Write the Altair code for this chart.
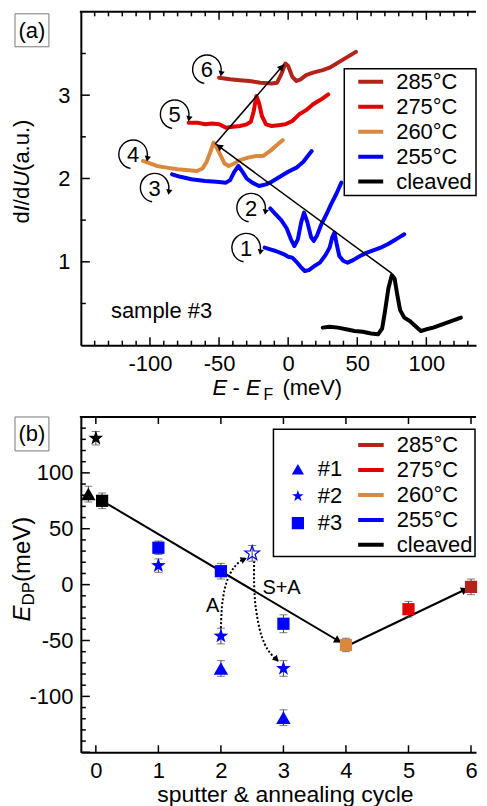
import math
import altair as alt
import pandas as pd

FONT = "Liberation Sans"
TEMPS = ["285°C", "275°C", "260°C", "255°C", "cleaved"]
COLORS = ["#B3231A", "#E30000", "#DA883E", "#0000FF", "#000000"]

# ---------------- panel (a): dI/dU spectra (offset) ----------------
c1_x = [-17, -13, -9, -6, -3, 0, 3, 6, 9, 12, 15, 19, 23, 27, 30, 32, 33.5, 35, 37, 40, 43, 47, 52, 57, 62, 67, 72, 76, 80, 84]
c1_y = [1.17, 1.15, 1.13, 1.11, 1.09, 1.06, 1.05, 1.00, 0.94, 0.89, 0.90, 0.95, 0.99, 1.08, 1.17, 1.30, 1.35, 1.22, 1.07, 1.01, 0.99, 1.02, 1.07, 1.11, 1.14, 1.17, 1.21, 1.25, 1.29, 1.33]
c2_x = [-13, -9, -5, -1, 2, 4.5, 7, 9.5, 11.5, 14, 16.5, 18.5, 21, 24, 28, 31, 35, 38.5]
c2_y = [1.64, 1.57, 1.50, 1.40, 1.27, 1.19, 1.27, 1.48, 1.59, 1.47, 1.30, 1.25, 1.32, 1.45, 1.58, 1.69, 1.82, 1.95]
c3_x = [-84, -78, -70, -60, -52, -45, -42, -39, -36, -33, -30, -26, -21, -16, -12, -6, 0, 6, 11, 17]
c3_y = [2.05, 2.02, 1.99, 1.97, 1.96, 1.95, 1.98, 2.08, 2.15, 2.08, 2.00, 1.95, 1.91, 1.93, 1.96, 2.02, 2.08, 2.13, 2.20, 2.33]
c4_x = [-105, -100, -95, -88, -80, -72, -66, -62, -59, -56, -54, -52, -49, -46, -43, -39, -35, -29, -23, -18, -13, -9, -4]
c4_y = [2.21, 2.18, 2.15, 2.13, 2.11, 2.10, 2.09, 2.12, 2.20, 2.33, 2.43, 2.38, 2.28, 2.18, 2.15, 2.18, 2.22, 2.25, 2.27, 2.27, 2.33, 2.39, 2.46]
c5_x = [-72, -66, -60, -55, -50, -45, -40, -35, -30, -27, -25, -23, -21, -19, -16, -12, -7, -2, 3, 8, 13, 18, 24, 29]
c5_y = [2.67, 2.67, 2.65, 2.66, 2.65, 2.61, 2.62, 2.63, 2.65, 2.68, 2.80, 2.99, 2.90, 2.75, 2.65, 2.63, 2.64, 2.65, 2.69, 2.77, 2.82, 2.89, 2.95, 3.01]
c6_x = [-50, -42, -35, -28, -20, -12, -8, -5, -2, 0, 3, 6, 9, 13, 18, 25, 30, 37, 43, 49]
c6_y = [3.21, 3.19, 3.18, 3.17, 3.15, 3.14, 3.15, 3.25, 3.38, 3.35, 3.22, 3.17, 3.19, 3.24, 3.27, 3.30, 3.33, 3.40, 3.46, 3.52]
cl_x = [25, 30, 36, 42, 48, 54, 60, 65, 68, 70, 72.5, 75, 77, 79, 81, 84, 88, 92, 96, 100, 105, 110, 115, 120, 125]
cl_y = [0.21, 0.22, 0.21, 0.19, 0.17, 0.16, 0.14, 0.13, 0.20, 0.40, 0.68, 0.84, 0.80, 0.60, 0.42, 0.33, 0.29, 0.23, 0.17, 0.19, 0.21, 0.24, 0.27, 0.30, 0.33]

curves = [("1", "255°C", c1_x, c1_y), ("2", "255°C", c2_x, c2_y), ("3", "255°C", c3_x, c3_y),
          ("4", "260°C", c4_x, c4_y), ("5", "275°C", c5_x, c5_y), ("6", "285°C", c6_x, c6_y),
          ("0", "cleaved", cl_x, cl_y)]
rows = []
for cid, t, xs_, ys_ in curves:
    for xv, yv in zip(xs_, ys_):
        rows.append({"curve": cid, "temp": t, "E": xv, "dIdU": yv})
spec_df = pd.DataFrame(rows)

# Dirac-point guide arrows in (a)
arr_a_x0 = [75, -53]
arr_a_y0 = [0.86, 2.41]
arr_a_x1 = [-52, -3]
arr_a_y1 = [2.41, 3.37]

# circled cycle numbers in (a)
circ_lab = ["1", "2", "3", "4", "5", "6"]
circ_x = [-30.4, -26.8, -96.6, -112.2, -82.1, -58.8]
circ_y = [1.17, 1.65, 1.89, 2.29, 2.77, 3.31]

# ---------------- panel (b): Dirac point vs cycle ----------------
pt_cycle = [0, -0.12, 0.1, 1, 1, 2, 2, 2, 3, 3, 3, 4, 5, 6]
pt_edp = [131, 81, 75, 33, 17, 12, -46, -75, -35, -75, -119, -54, -22, -2]
pt_err = [6, 7, 7, 6, 6, 7, 7, 7, 8, 7, 7, 6, 7, 7]
pt_sample = ["#2", "#1", "#3", "#3", "#2", "#3", "#2", "#1", "#3", "#2", "#1", "#3", "#3", "#3"]
pt_temp = ["cleaved", "cleaved", "cleaved", "255°C", "255°C", "255°C", "255°C", "255°C",
           "255°C", "255°C", "255°C", "260°C", "275°C", "285°C"]
hollow_cycle = [2.5]
hollow_edp = [28]
hollow_err = [7]

path_x = [0.1, 3.93, 4.05, 5.96]
path_y = [75, -52, -54, -3]
path_seg = ["s1", "s1", "s2", "s2"]

dotA_x = [2.0, 2.01, 2.04, 2.09, 2.16, 2.25, 2.34, 2.42]
dotA_y = [-39, -25, -10, 2, 11, 18, 22, 24]
dotSA_x = [2.53, 2.53, 2.54, 2.57, 2.62, 2.70, 2.80, 2.93]
dotSA_y = [21, 5, -10, -25, -40, -53, -62, -69]

SAMPLES = ["#1", "#2", "#3"]

# ---------------- layout ----------------
WA, HA = 396, 334
WB, HB = 396, 336
XA = [-150, -150 + WA / 1.385]
YA = [0, 4]
XB = [-0.24, 6.08]
YB = [-150, 150]
SXA, SYA = WA / (XA[1] - XA[0]), HA / (YA[1] - YA[0])
SXB, SYB = WB / (XB[1] - XB[0]), HB / (YB[1] - YB[0])

DUMMY = pd.DataFrame({"k": [0]})
NB = "\u00a0"


def scale(dom):
    return alt.Scale(domain=dom, nice=False, zero=False)


AXIS_COMMON = dict(ticks=False, grid=False, title=None, domain=True, domainColor="black", domainWidth=2,
                   labelFont=FONT, labelFontSize=22, labelColor="black", labelExpr="'' + datum.value")
AXA_X = alt.Axis(values=[-100, -50, 0, 50, 100], labelPadding=8, **AXIS_COMMON)
AXA_Y = alt.Axis(values=[1, 2, 3], labelPadding=11, **AXIS_COMMON)
AXB_X = alt.Axis(values=[0, 1, 2, 3, 4, 5, 6], labelPadding=8, **AXIS_COMMON)
AXB_Y = alt.Axis(values=[-100, -50, 0, 50, 100], labelPadding=8, **AXIS_COMMON)


def piece(text, x, y, size=22, italic=False, angle=0, align="left", baseline="alphabetic", color="black"):
    kw = dict(text=text, font=FONT, fontSize=size, align=align, baseline=baseline, color=color)
    if italic:
        kw["fontStyle"] = "italic"
    if angle:
        kw["angle"] = angle
    return alt.Chart(DUMMY).mark_text(**kw).encode(x=alt.value(x), y=alt.value(y))


def box(x0, x1, y0, y1, color="black", width=1.5, opacity=1):
    return alt.Chart(DUMMY).mark_rect(fillOpacity=0, stroke=color, strokeWidth=width, strokeOpacity=opacity).encode(
        x=alt.value(x0), x2=alt.value(x1), y=alt.value(y0), y2=alt.value(y1))


def spine_top(W):
    return alt.Chart(DUMMY).mark_rect(color="black").encode(
        x=alt.value(-1), x2=alt.value(W), y=alt.value(-1), y2=alt.value(1))


def xticks(vals, length, sc, ax, H):
    df = pd.DataFrame({"v": vals})
    base = alt.Chart(df).mark_rule(color="black", strokeWidth=1.5)
    bot = base.encode(x=alt.X("v:Q", scale=sc, axis=ax), y=alt.value(H), y2=alt.value(H - length))
    top = base.encode(x=alt.X("v:Q", scale=sc, axis=ax), y=alt.value(0), y2=alt.value(length))
    return [bot, top]


def yticks(vals, length, sc, ax):
    df = pd.DataFrame({"v": vals})
    return [alt.Chart(df).mark_rule(color="black", strokeWidth=1.5).encode(
        y=alt.Y("v:Q", scale=sc, axis=ax), x=alt.value(0), x2=alt.value(length))]


def heads(x0, y0, x1, y1, sx, sy, sxc, syc, axx, axy, back=3.5, size=55):
    rows = []
    for a, b, c, d in zip(x0, y0, x1, y1):
        dx = (c - a) * sx
        dy = -(d - b) * sy
        L = math.hypot(dx, dy)
        ux, uy = dx / L, dy / L
        ang = math.degrees(math.atan2(dx, -dy)) % 360
        rows.append({"x": c - back * ux / sx, "y": d + back * uy / sy, "ang": ang})
    df = pd.DataFrame(rows)
    return alt.Chart(df).mark_point(shape="triangle-up", filled=True, color="black", size=size, opacity=1).encode(
        x=alt.X("x:Q", scale=sxc, axis=axx), y=alt.Y("y:Q", scale=syc, axis=axy),
        angle=alt.Angle("ang:Q", scale=None))


# ---------------- build panel (a) ----------------
xsa, ysa = scale(XA), scale(YA)
XENC_A = lambda f: alt.X(f, scale=xsa, axis=AXA_X)
YENC_A = lambda f: alt.Y(f, scale=ysa, axis=AXA_Y)

curves_layer = alt.Chart(spec_df).mark_line(strokeWidth=4, strokeCap="round", strokeJoin="round").encode(
    x=XENC_A("E:Q"), y=YENC_A("dIdU:Q"),
    color=alt.Color("temp:N", scale=alt.Scale(domain=TEMPS, range=COLORS),
                    legend=alt.Legend(orient="none", legendX=276, legendY=58, title=None,
                                      symbolType="stroke", symbolSize=625, symbolStrokeWidth=4,
                                      labelFont=FONT, labelFontSize=22, labelColor="black",
                                      labelOffset=11, clipHeight=24.2, rowPadding=0, padding=0)),
    detail="curve:N",
    order=alt.Order("E:Q"))

arrow_df_a = pd.DataFrame([{"seg": i, "x": x, "y": y} for i, (a, b, c, d) in
                           enumerate(zip(arr_a_x0, arr_a_y0, arr_a_x1, arr_a_y1)) for x, y in ((a, b), (c, d))])
arrows_a = alt.Chart(arrow_df_a).mark_line(color="black", strokeWidth=1.5).encode(
    x=XENC_A("x:Q"), y=YENC_A("y:Q"), detail="seg:N")
heads_a = heads(arr_a_x0, arr_a_y0, arr_a_x1, arr_a_y1, SXA, SYA, xsa, ysa, AXA_X, AXA_Y)

circ_df = pd.DataFrame({"lab": circ_lab, "x": circ_x, "y": circ_y})
circ_arc1 = alt.Chart(circ_df).mark_arc(radius=15, radius2=13.6, theta=3.32, theta2=6.2832, color="black").encode(
    x=XENC_A("x:Q"), y=YENC_A("y:Q"))
circ_arc2 = alt.Chart(circ_df).mark_arc(radius=15, radius2=13.6, theta=0.0, theta2=1.75, color="black").encode(
    x=XENC_A("x:Q"), y=YENC_A("y:Q"))
circ_txt = alt.Chart(circ_df).mark_text(font=FONT, fontSize=22, color="black", baseline="middle", align="center", dy=1).encode(
    x=XENC_A("x:Q"), y=YENC_A("y:Q"), text="lab:N")
circ_heads = alt.Chart(circ_df).mark_point(shape="triangle-up", filled=True, color="black", size=40, angle=190,
                                           xOffset=14.3, yOffset=4.5, opacity=1).encode(
    x=XENC_A("x:Q"), y=YENC_A("y:Q"))

sample_txt = alt.Chart(pd.DataFrame({"x": [-91.6], "y": [0.33], "t": ["sample #3"]})).mark_text(
    font=FONT, fontSize=22, color="black", align="center", baseline="alphabetic").encode(
    x=XENC_A("x:Q"), y=YENC_A("y:Q"), text="t:N")

layers_a = [curves_layer]
layers_a += xticks([-100, -50, 0, 50, 100], 8, xsa, AXA_X, HA)
layers_a += xticks([-140, -130, -120, -110, -90, -80, -70, -60, -40, -30, -20, -10, 10, 20, 30, 40,
                    60, 70, 80, 90, 110, 120, 130], 4.5, xsa, AXA_X, HA)
layers_a += yticks([1, 2, 3], 9, ysa, AXA_Y)
layers_a += yticks([0.5, 1.5, 2.5, 3.5], 5, ysa, AXA_Y)
layers_a += [spine_top(WA), arrows_a, heads_a, circ_arc1, circ_arc2, circ_txt, circ_heads, sample_txt,
             box(264, 396, 57, 184),
             box(-73, -72, 100, 101, width=0.1, opacity=0),   # invisible left layout anchor
             box(-66, -32, 2, 35, color="#777", width=1),
             piece("(a)", -49, 19, size=22, align="center", baseline="middle"),
             # x title: E - E_F (meV)
             piece("E", 132, 384, italic=True),
             piece("-", 152, 384),
             piece("E", 165.5, 384, italic=True),
             piece("F", 183, 389, size=16),
             piece("(meV)", 202, 384),
             # y title: dI/dU (a.u.)
             piece("d", -51.5, 212, angle=270),
             piece("I", -51.5, 199.8, angle=270, italic=True),
             piece("/d", -51.5, 193.7, angle=270),
             piece("U", -51.5, 175.3, angle=270, italic=True),
             piece(NB + "(a.u.)", -51.5, 159.4, angle=270)]
panel_a = alt.layer(*layers_a).properties(width=WA, height=HA)

# ---------------- build panel (b) ----------------
xsb, ysb = scale(XB), scale(YB)
XENC_B = lambda f: alt.X(f, scale=xsb, axis=AXB_X)
YENC_B = lambda f: alt.Y(f, scale=ysb, axis=AXB_Y)

STAR = "M" + "L".join(
    "{:.3f},{:.3f}".format((1.0 if k % 2 == 0 else 0.40) * math.cos(math.radians(-90 + 36 * k)),
                           (1.0 if k % 2 == 0 else 0.40) * math.sin(math.radians(-90 + 36 * k)))
    for k in range(10)) + "Z"
SHAPES = ["triangle-up", STAR, "square"]
SIZES = [210, 240, 150]

pts_df = pd.DataFrame({"cyc": pt_cycle, "edp": pt_edp, "err": pt_err, "sample": pt_sample, "temp": pt_temp})
pts_df["temp_fill"] = pts_df["temp"]
pts_df["rid"] = range(len(pts_df))
pts_df["lo"] = pts_df["edp"] - pts_df["err"]
pts_df["hi"] = pts_df["edp"] + pts_df["err"]
hol_df = pd.DataFrame({"cyc": hollow_cycle, "edp": hollow_edp, "err": hollow_err})
hol_df["lo"] = hol_df["edp"] - hol_df["err"]
hol_df["hi"] = hol_df["edp"] + hol_df["err"]
eb_df = pd.concat([pts_df[["cyc", "lo", "hi"]], hol_df[["cyc", "lo", "hi"]]], ignore_index=True)

# sample legend (blue symbols, hidden underneath the coloured markers)
shape_legend_layer = alt.Chart(pts_df).mark_point(filled=True, color="#0000FF", size=90, opacity=1).encode(
    x=XENC_B("cyc:Q"), y=YENC_B("edp:Q"),
    shape=alt.Shape("sample:N", scale=alt.Scale(domain=SAMPLES, range=SHAPES),
                    legend=alt.Legend(orient="none", legendX=206.5, legendY=39, title=None,
                                      symbolSize=150, symbolFillColor="#0000FF", symbolStrokeColor="#0000FF",
                                      labelFont=FONT, labelFontSize=22,
                                      labelColor="black", labelOffset=9, clipHeight=26.6,
                                      rowPadding=0, padding=0)))
# temperature legend (single-point lines draw nothing; they only carry the colour legend)
temp_legend_layer = alt.Chart(pts_df).mark_line(strokeWidth=4, strokeCap="butt").encode(
    x=XENC_B("cyc:Q"), y=YENC_B("edp:Q"), detail="rid:N",
    color=alt.Color("temp:N", scale=alt.Scale(domain=TEMPS, range=COLORS),
                    legend=alt.Legend(orient="none", legendX=275.7, legendY=16, title=None,
                                      symbolType="stroke", symbolSize=655, symbolStrokeWidth=4,
                                      labelFont=FONT, labelFontSize=22, labelColor="black",
                                      labelOffset=11, clipHeight=24.3, rowPadding=0, padding=0)))
point_layers = []
for s, shp, sz in zip(SAMPLES, SHAPES, SIZES):
    point_layers.append(
        alt.Chart(pts_df).transform_filter(alt.datum.sample == s).mark_point(
            shape=shp, filled=True, size=sz, opacity=1, strokeWidth=0).encode(
            x=XENC_B("cyc:Q"), y=YENC_B("edp:Q"),
            fill=alt.Fill("temp_fill:N", scale=alt.Scale(domain=TEMPS, range=COLORS), legend=None)))

hollow = alt.Chart(hol_df).mark_point(shape=STAR, filled=False, stroke="#0000FF", strokeWidth=1.2,
                                      size=240, opacity=1).encode(
    x=XENC_B("cyc:Q"), y=YENC_B("edp:Q"))
ebars = alt.Chart(eb_df).mark_rule(color="#444", strokeWidth=1).encode(
    x=XENC_B("cyc:Q"), y=YENC_B("lo:Q"), y2="hi:Q")
caps_lo = alt.Chart(eb_df).mark_tick(orient="horizontal", size=8, thickness=1, color="#444").encode(
    x=XENC_B("cyc:Q"), y=YENC_B("lo:Q"))
caps_hi = alt.Chart(eb_df).mark_tick(orient="horizontal", size=8, thickness=1, color="#444").encode(
    x=XENC_B("cyc:Q"), y=YENC_B("hi:Q"))

path_df = pd.DataFrame({"x": path_x, "y": path_y, "seg": path_seg})
path_line = alt.Chart(path_df).mark_line(color="black", strokeWidth=2).encode(
    x=XENC_B("x:Q"), y=YENC_B("y:Q"), detail="seg:N")
path_heads = heads([path_x[0], path_x[2]], [path_y[0], path_y[2]], [path_x[1], path_x[3]], [path_y[1], path_y[3]],
                   SXB, SYB, xsb, ysb, AXB_X, AXB_Y, back=4, size=70)

dot_df = pd.DataFrame({"x": dotA_x + dotSA_x, "y": dotA_y + dotSA_y,
                       "seg": ["A"] * len(dotA_x) + ["SA"] * len(dotSA_x),
                       "i": list(range(len(dotA_x))) + list(range(len(dotSA_x)))})
dot_line = alt.Chart(dot_df).mark_line(color="black", strokeWidth=2, strokeDash=[2, 2], interpolate="monotone").encode(
    x=XENC_B("x:Q"), y=YENC_B("y:Q"), detail="seg:N", order="i:Q")
dot_heads = heads([dotA_x[-2], dotSA_x[-2]], [dotA_y[-2], dotSA_y[-2]], [dotA_x[-1], dotSA_x[-1]],
                  [dotA_y[-1], dotSA_y[-1]], SXB, SYB, xsb, ysb, AXB_X, AXB_Y, back=3.5, size=50)

lab_df = pd.DataFrame({"x": [1.87, 2.97], "y": [-19, -3], "t": ["A", "S+A"]})
labs_b = alt.Chart(lab_df).mark_text(font=FONT, fontSize=20, color="black", baseline="middle", align="center").encode(
    x=XENC_B("x:Q"), y=YENC_B("y:Q"), text="t:N")

layers_b = [shape_legend_layer, temp_legend_layer]
layers_b += xticks([0, 1, 2, 3, 4, 5, 6], 7, xsb, AXB_X, HB)
layers_b += yticks([-150, -100, -50, 0, 50, 100, 150], 9, ysb, AXB_Y)
layers_b += yticks([v for v in range(-140, 150, 10) if v % 50 != 0], 5, ysb, AXB_Y)
layers_b += [spine_top(WB), path_line, path_heads, dot_line, dot_heads, ebars, caps_lo, caps_hi]
layers_b += point_layers
layers_b += [hollow, labs_b,
             box(193, 395, 12.3, 139.7),
             box(-66, -32, 0, 34, color="#777", width=1),
             piece("(b)", -49, 17, size=22, align="center", baseline="middle"),
             piece("sputter & annealing cycle", 205, 386, size=23, align="center"),
             piece("E", -51, 205, size=24, angle=270, italic=True),
             piece("DP", -47, 189, size=17, angle=270),
             piece(NB + "(meV)", -51, 165.4, size=24, angle=270)]
panel_b = alt.layer(*layers_b).properties(width=WB, height=HB)

chart = alt.vconcat(panel_a, panel_b, spacing=72, bounds="flush").resolve_scale(
    color="independent", fill="independent", shape="independent",
    x="independent", y="independent").resolve_legend(
    color="independent", shape="independent").configure_view(stroke=None).properties(
    padding={"left": 0, "top": 2, "right": 0, "bottom": 0})

chart.save("out.html", embed_options={"renderer": "svg", "actions": False})
